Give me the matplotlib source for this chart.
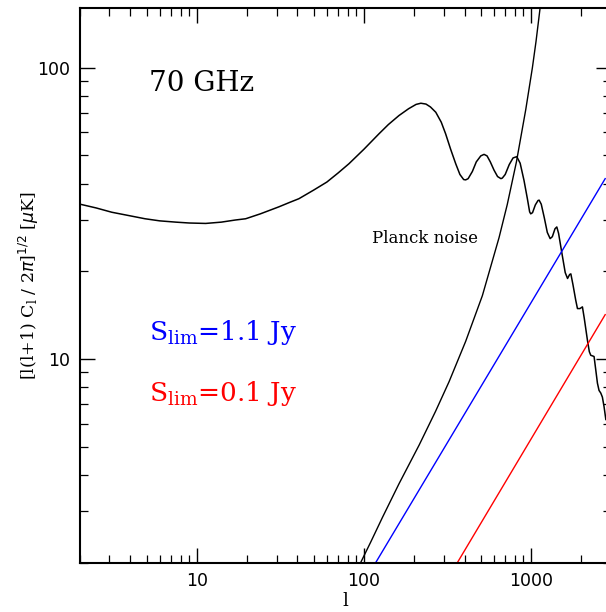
import matplotlib.pyplot as plt
from matplotlib.ticker import LogLocator, FuncFormatter, NullFormatter

# CMB spectrum
l_cmb = [2.0, 2.5, 3.1, 4.0, 4.9, 6.0, 7.5, 9.0, 11.3, 14, 17, 19.6, 24, 31,
         36, 40.8, 50, 60, 70, 81.3, 100, 123, 140, 162, 185, 205, 219, 235,
         250, 269, 290, 308, 330, 354, 375, 395, 406, 420, 445, 470, 500,
         523, 545, 570, 600, 630, 660, 673, 700, 740, 780, 821, 860, 907,
         950, 980, 995, 1020, 1060, 1100, 1117, 1150, 1200, 1250, 1300, 1340,
         1390, 1425, 1460, 1542, 1600, 1652, 1700, 1729, 1780, 1850, 1894,
         1960, 2028, 2080, 2173, 2230, 2275, 2330, 2381, 2430, 2494, 2550,
         2612, 2670, 2731, 2800]
t_cmb = [34.0, 33.0, 31.9, 31.0, 30.3, 29.8, 29.5, 29.3, 29.2, 29.5, 30.0,
         30.3, 31.5, 33.3, 34.5, 35.5, 38.0, 40.5, 43.5, 46.8, 52.5, 59.3,
         63.8, 68.5, 72.3, 74.8, 75.5, 75.0, 73.3, 70.3, 65.0, 59.3, 52.5,
         46.8, 43.0, 41.3, 41.2, 41.6, 44.0, 47.5, 49.8, 50.4, 49.8, 47.5,
         44.5, 42.3, 41.6, 41.8, 43.0, 46.5, 49.0, 49.5, 47.0, 41.0, 35.5,
         32.0, 31.5, 31.8, 33.8, 35.0, 35.1, 34.0, 30.5, 27.2, 25.9, 26.3,
         28.0, 28.4, 27.0, 22.4, 19.8, 18.9, 19.5, 19.6, 18.0, 15.9, 14.9,
         14.9, 15.1, 13.8, 11.6, 10.6, 10.3, 10.25, 10.2, 9.3, 8.26, 7.8,
         7.64, 7.4, 6.87, 6.2]

# Planck noise
l_noise = [95.5, 110, 129, 162, 214, 268, 323, 406, 511, 643, 720, 817, 929,
           1018, 1070, 1130, 1140]
t_noise = [2.0, 2.36, 2.86, 3.73, 5.07, 6.61, 8.36, 11.5, 16.5, 26.1, 33.9,
           47.5, 71.8, 100, 123, 159, 166]

# point-source lines
l_blue = [117.5, 2775]
t_blue = [2.0, 41.6]
l_red = [362, 2775]
t_red = [2.0, 14.2]

fig = plt.figure(figsize=(6.06, 6.12), dpi=100)
ax = fig.add_axes([0.132, 0.0806, 0.876, 0.906])

ax.loglog(l_cmb, t_cmb, color='black', lw=1.1)
ax.loglog(l_noise, t_noise, color='black', lw=1.0)
ax.loglog(l_blue, t_blue, color='blue', lw=1.0)
ax.loglog(l_red, t_red, color='red', lw=1.0)

ax.set_xlim(2, 3000)
ax.set_ylim(2, 160)

for a in (ax.xaxis, ax.yaxis):
    a.set_major_locator(LogLocator(base=10))
    a.set_minor_locator(LogLocator(base=10, subs=range(2, 10)))
    a.set_major_formatter(FuncFormatter(lambda v, p: '%g' % v))
    a.set_minor_formatter(NullFormatter())

ax.tick_params(which='both', direction='in', top=True, right=True,
               labelsize=12.5, pad=7)
ax.tick_params(which='major', length=11, width=1.0)
ax.tick_params(which='minor', length=6, width=0.9)
for s in ax.spines.values():
    s.set_linewidth(1.5)

serif = 'DejaVu Serif'
ax.set_xlabel('l', fontsize=13, family=serif, labelpad=1)
ax.set_ylabel(r'[l(l+1) C$_\mathregular{l}$ / 2$\pi$]$^{1/2}$ [$\mu$K]',
              fontsize=12.5, family=serif, labelpad=-3)

ax.text(5.2, 88, '70 GHz', fontsize=20, family=serif, va='center')
ax.text(112, 26, 'Planck noise', fontsize=12, family=serif, va='center')
ax.text(5.2, 12.3, r'S$_\mathregular{lim}$=1.1 Jy', fontsize=19,
        family=serif, color='blue', va='center')
ax.text(5.2, 7.6, r'S$_\mathregular{lim}$=0.1 Jy', fontsize=19,
        family=serif, color='red', va='center')

plt.savefig('out.png', dpi=100)
